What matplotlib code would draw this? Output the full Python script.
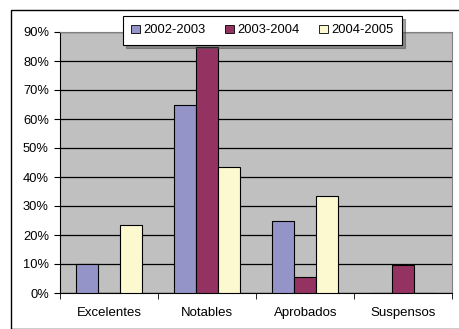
import matplotlib.pyplot as plt
import numpy as np
from matplotlib.patches import Rectangle

categories = ["Excelentes", "Notables", "Aprobados", "Suspensos"]
series = ["2002-2003", "2003-2004", "2004-2005"]
v0203 = [10, 65, 25, 0]
v0304 = [0, 85, 5.6, 9.5]
v0405 = [23.5, 43.3, 33.3, 0]
colors = ["#9494C9", "#943362", "#FCF9D0"]

plt.rcParams["font.family"] = ["Liberation Sans", "DejaVu Sans"]

fig = plt.figure(figsize=(4.6, 3.29), dpi=100)
# outer chart border (only left and top edges are inside the image)
fig.patches.append(Rectangle((11 / 460, 0), 1, 1 - 10 / 329, transform=fig.transFigure,
                             fill=False, edgecolor="black", linewidth=1))
ax = fig.add_axes([60 / 460, 1 - 293 / 329, 392.5 / 460, 261 / 329])
ax.set_facecolor("#C0C0C0")

x = np.arange(len(categories))
w = 0.224
for i, (vals, name) in enumerate(zip([v0203, v0304, v0405], series)):
    ax.bar(x + (i - 1) * w, vals, w, color=colors[i], edgecolor="black",
           linewidth=0.8, label=name, zorder=3)

ax.set_xlim(-0.5, 3.5)
ax.set_ylim(0, 90)
ax.set_yticks(range(0, 91, 10))
ax.set_yticklabels([f"{t}%" for t in range(0, 91, 10)])
ax.yaxis.grid(True, color="black", linewidth=0.9, zorder=0)
ax.set_axisbelow(True)

ax.set_xticks(x)
ax.set_xticklabels(categories)
ax.set_xticks(np.arange(-0.5, 4, 1), minor=True)
ax.tick_params(axis="x", which="major", length=0, pad=10, labelsize=9.5)
ax.tick_params(axis="x", which="minor", length=4, direction="out")
ax.tick_params(axis="y", length=4, direction="out", labelsize=9.3, pad=4)

for s in ["top", "right"]:
    ax.spines[s].set_color("#808080")
for s in ["left", "bottom"]:
    ax.spines[s].set_color("black")

leg = ax.legend(loc="upper left", bbox_to_anchor=((123 - 60) / 392.5, 1 + 16 / 261),
                ncol=3, fontsize=9.3, frameon=True, fancybox=False, shadow=True,
                handlelength=0.65, handleheight=0.65, handletextpad=0.3,
                columnspacing=1.5, borderpad=0.65, borderaxespad=0)
leg.get_frame().set_edgecolor("black")
leg.get_frame().set_linewidth(0.8)
for h in leg.legend_handles:
    h.set_linewidth(0.6)

fig.savefig("out.png", dpi=100)
